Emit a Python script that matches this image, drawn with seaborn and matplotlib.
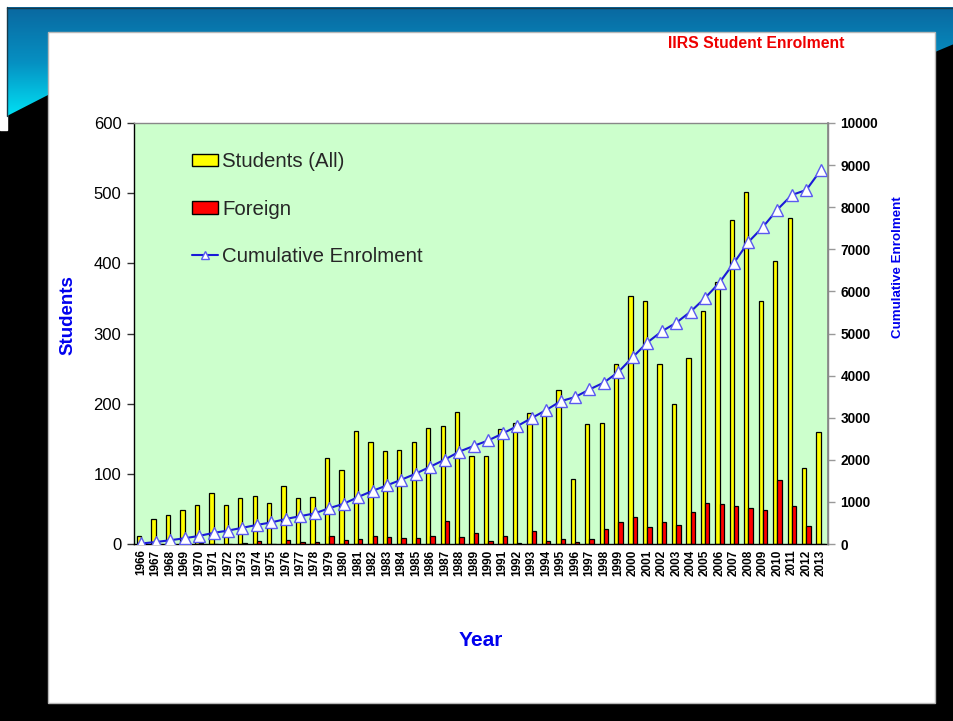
import numpy as np
import pandas as pd
import matplotlib
matplotlib.use("Agg")
import matplotlib.pyplot as plt
import seaborn as sns
from matplotlib.patches import Rectangle, Polygon, Patch
from matplotlib.lines import Line2D
from matplotlib.colors import LinearSegmentedColormap

# ---------------- data ----------------
years = [str(y) for y in range(1966, 2014)]
students_all = [12, 35, 42, 48, 55, 72, 55, 66, 69, 58,
                83, 66, 67, 122, 105, 161, 146, 132, 134, 145,
                165, 168, 188, 125, 125, 164, 173, 186, 190, 220,
                92, 171, 172, 256, 354, 346, 256, 199, 265, 332,
                373, 462, 501, 347, 403, 465, 109, 160]
foreign = [0, 0, 0, 1, 1, 0, 0, 1, 4, 0,
           5, 3, 3, 12, 5, 7, 11, 10, 8, 9,
           11, 33, 10, 15, 4, 12, 2, 18, 4, 7,
           3, 7, 21, 31, 38, 24, 31, 27, 46, 59,
           57, 54, 51, 48, 91, 54, 25, 0]
cumulative = [12, 47, 89, 137, 192, 264, 319, 385, 454, 512,
              595, 661, 728, 850, 955, 1116, 1262, 1394, 1528, 1673,
              1838, 2006, 2194, 2330, 2460, 2625, 2800, 2990, 3180, 3390,
              3490, 3670, 3835, 4085, 4440, 4785, 5050, 5255, 5520, 5845,
              6210, 6680, 7175, 7530, 7945, 8290, 8410, 8880]
series_names = ["Students (All)", "Foreign"]
line_name = "Cumulative Enrolment"

df = pd.DataFrame({
    "Year": years * 2,
    "Series": [series_names[0]] * len(years) + [series_names[1]] * len(years),
    "Value": students_all + foreign,
})

sns.set_theme(style="white")
plt.rcParams["font.family"] = ["Liberation Sans", "DejaVu Sans"]

W, H = 954, 721
fig = plt.figure(figsize=(W / 100, H / 100), dpi=100, facecolor="black")

# ---------------- slide background ----------------
bg = fig.add_axes([0, 0, 1, 1], zorder=-10)
bg.axis("off")
bg.add_patch(Rectangle((0, 0), W, 7, color="white"))
bg.add_patch(Rectangle((0, 0), 7, 130, color="white"))
grad = np.linspace(0, 1, 256).reshape(-1, 1)
cmap = LinearSegmentedColormap.from_list("teal", ["#0a68a0", "#0690c2", "#00e4f6"])
im = bg.imshow(grad, cmap=cmap, extent=(7, W, 118, 7), aspect="auto", zorder=1)
poly = Polygon([(7, 7), (W, 7), (W, 44), (935, 52), (48, 95), (7, 116)],
               closed=True, facecolor="none", edgecolor="none")
bg.add_patch(poly)
im.set_clip_path(poly)
bg.plot([7, W], [7.5, 7.5], color="#17394a", lw=1, zorder=2)
bg.plot([7.5, 7.5], [7, 116], color="#17394a", lw=1, zorder=2)
bg.add_patch(Rectangle((48, 32), 887, 671, facecolor="white",
                       edgecolor="#b8b8b8", lw=1, zorder=3))
bg.set_xlim(0, W)
bg.set_ylim(H, 0)

# ---------------- main chart ----------------
ax = fig.add_axes([134 / W, 1 - 544 / H, 694 / W, 421 / H])
ax.set_facecolor("#ccffcc")
sns.barplot(data=df, x="Year", y="Value", hue="Series", hue_order=series_names,
            palette={series_names[0]: "#ffff00", series_names[1]: "#ff0000"},
            saturation=1, width=0.6, edgecolor="black", linewidth=0.9,
            legend=False, ax=ax)
ax.set_ylim(0, 600)
ax.set_yticks(range(0, 601, 100))
ax.set_xlabel("")
ax.set_ylabel("")

ax2 = ax.twinx()
sns.lineplot(x=np.arange(len(years)), y=cumulative, ax=ax2, color="#1a1ad8",
             lw=1.5, marker="^", markersize=8.5, markerfacecolor="white",
             markeredgecolor="#5a5af0", markeredgewidth=1)
ax2.set_ylim(0, 10000)
ax2.set_yticks(range(0, 10001, 1000))
ax2.set_ylabel("")
ax2.set_xlabel("")
ax.set_xlim(-0.5, len(years) - 0.5)

ax.set_xticks(range(len(years)))
ax.set_xticklabels(years, rotation=90, fontsize=8.5, fontweight="bold")
ax.tick_params(axis="x", length=0, pad=4, colors="black")
ax.tick_params(axis="y", left=True, length=5, width=1, direction="out",
               labelsize=12, pad=4, color="#333333", labelcolor="black")
ax2.tick_params(axis="y", right=True, length=5, width=1, direction="out",
                labelsize=9.8, pad=4, color="#999999", labelcolor="black")
for lab in ax2.get_yticklabels():
    lab.set_fontweight("bold")

for s in ["left", "bottom"]:
    ax.spines[s].set_color("black")
    ax.spines[s].set_linewidth(1)
for s in ["top", "right"]:
    ax.spines[s].set_color("#888888")
    ax.spines[s].set_linewidth(1)
for s in ["left", "bottom", "top"]:
    ax2.spines[s].set_visible(False)
ax2.spines["right"].set_color("#888888")

handles = [
    Patch(facecolor="#ffff00", edgecolor="black", linewidth=1),
    Patch(facecolor="#ff0000", edgecolor="black", linewidth=1),
    Line2D([], [], color="#1a1ad8", lw=1.5, marker="^", markersize=6,
           markerfacecolor="white", markeredgecolor="#5a5af0"),
]
ax.legend(handles, series_names + [line_name], loc="upper left",
          bbox_to_anchor=(0.083, 0.93), frameon=False, fontsize=14.7,
          labelspacing=1.38, handlelength=1.3, handleheight=0.55,
          handletextpad=0.2, borderpad=0, borderaxespad=0)

# ---------------- texts ----------------
blue = "#0000ee"
fig.text(68 / W, 1 - 315 / H, "Students", rotation=90, color=blue,
         fontsize=13.5, fontweight="bold", ha="center", va="center")
fig.text(898 / W, 1 - 267 / H, "Cumulative Enrolment", rotation=90, color=blue,
         fontsize=9.6, fontweight="bold", ha="center", va="center")
fig.text(481 / W, 1 - 641 / H, "Year", color=blue, fontsize=15,
         fontweight="bold", ha="center", va="center",
         family=["Liberation Sans Narrow", "Liberation Sans", "DejaVu Sans"])
fig.text(756 / W, 1 - 44 / H, "IIRS Student Enrolment", color="#ee0000",
         fontsize=11.3, fontweight="bold", ha="center", va="center")

fig.savefig("out.png", dpi=100, facecolor=fig.get_facecolor())
